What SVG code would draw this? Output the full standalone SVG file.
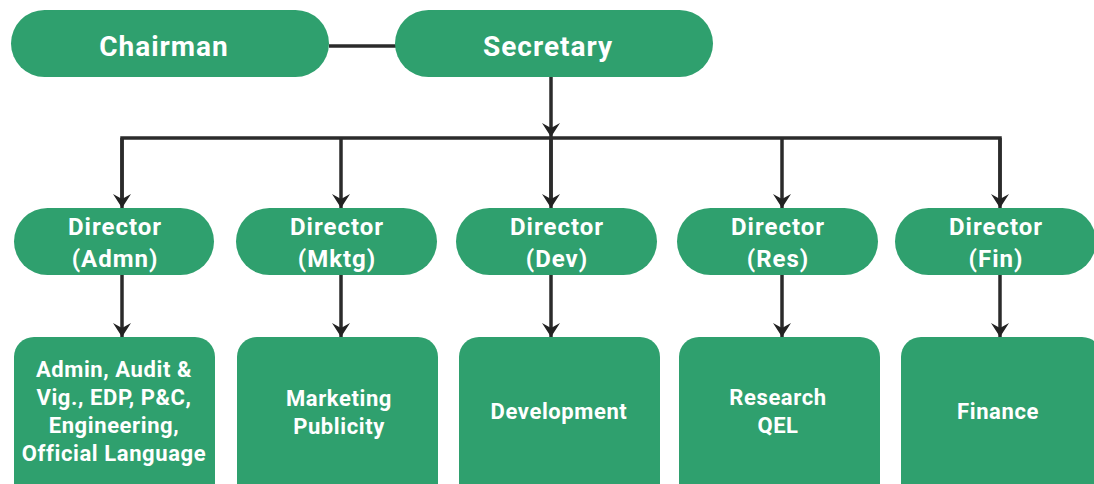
<svg xmlns="http://www.w3.org/2000/svg" width="1094" height="484" viewBox="0 0 1094 484">
<style>
.n{fill:#2fa06e}
.t{fill:#fff;font-family:Roboto,"Liberation Sans",sans-serif;font-weight:700;text-anchor:middle}
.big{font-size:28px;letter-spacing:1px}
.dir{font-size:24px;letter-spacing:1px}
.box{font-size:22px;letter-spacing:0.6px}
.c{stroke:#2b2b2b;stroke-width:3.5;fill:none}
</style>
<defs>
<marker id="ah" markerUnits="userSpaceOnUse" markerWidth="16" markerHeight="20" refX="14" refY="9" orient="auto" viewBox="0 0 16 20">
<path d="M0,0 L14,9 L0,18 L5,9 Z" fill="#222"/>
</marker>
</defs>
<rect width="1094" height="484" fill="#fff"/>
<g id="connectors">
<line class="c" x1="329" y1="46" x2="396" y2="46"/>
<line class="c" x1="551" y1="77" x2="551" y2="137" marker-end="url(#ah)"/>
<path class="c" d="M122,200 V138 H1000 V200"/>
<line class="c" x1="551" y1="138" x2="551" y2="200"/>
<line class="c" x1="122" y1="138" x2="122" y2="208" marker-end="url(#ah)"/>
<line class="c" x1="341" y1="138" x2="341" y2="208" marker-end="url(#ah)"/>
<line class="c" x1="551" y1="138" x2="551" y2="208" marker-end="url(#ah)"/>
<line class="c" x1="782" y1="138" x2="782" y2="208" marker-end="url(#ah)"/>
<line class="c" x1="1000" y1="138" x2="1000" y2="208" marker-end="url(#ah)"/>
<line class="c" x1="122" y1="275" x2="122" y2="337" marker-end="url(#ah)"/>
<line class="c" x1="341" y1="275" x2="341" y2="337" marker-end="url(#ah)"/>
<line class="c" x1="551" y1="275" x2="551" y2="337" marker-end="url(#ah)"/>
<line class="c" x1="782" y1="275" x2="782" y2="337" marker-end="url(#ah)"/>
<line class="c" x1="1000" y1="275" x2="1000" y2="337" marker-end="url(#ah)"/>
</g>
<g id="chairman"><rect class="n" x="11" y="10" width="318" height="67" rx="33.5"/><text class="t big" x="164" y="56">Chairman</text></g>
<g id="secretary"><rect class="n" x="395" y="10" width="318" height="67" rx="33.5"/><text class="t big" x="548" y="56">Secretary</text></g>
<g id="dir-admn"><rect class="n" x="14" y="208" width="200" height="67" rx="33.5"/><text class="t dir" x="115" y="235">Director</text><text class="t dir" x="115" y="267">(Admn)</text></g>
<g id="dir-mktg"><rect class="n" x="236" y="208" width="201" height="67" rx="33.5"/><text class="t dir" x="337" y="235">Director</text><text class="t dir" x="337" y="267">(Mktg)</text></g>
<g id="dir-dev"><rect class="n" x="456" y="208" width="201" height="67" rx="33.5"/><text class="t dir" x="557" y="235">Director</text><text class="t dir" x="557" y="267">(Dev)</text></g>
<g id="dir-res"><rect class="n" x="677" y="208" width="201" height="67" rx="33.5"/><text class="t dir" x="778" y="235">Director</text><text class="t dir" x="778" y="267">(Res)</text></g>
<g id="dir-fin"><rect class="n" x="895" y="208" width="201" height="67" rx="33.5"/><text class="t dir" x="996" y="235">Director</text><text class="t dir" x="996" y="267">(Fin)</text></g>
<g id="box-admn"><rect class="n" x="14" y="337" width="201" height="170" rx="20"/>
<text class="t box" x="114" y="377">Admin, Audit &amp;</text>
<text class="t box" x="114" y="405">Vig., EDP, P&amp;C,</text>
<text class="t box" x="114" y="433">Engineering,</text>
<text class="t box" x="114" y="461">Official Language</text></g>
<g id="box-mktg"><rect class="n" x="237" y="337" width="201" height="170" rx="20"/>
<text class="t box" x="339" y="406">Marketing</text><text class="t box" x="339" y="434">Publicity</text></g>
<g id="box-dev"><rect class="n" x="459" y="337" width="201" height="170" rx="20"/>
<text class="t box" x="559" y="419">Development</text></g>
<g id="box-res"><rect class="n" x="679" y="337" width="201" height="170" rx="20"/>
<text class="t box" x="778" y="405">Research</text><text class="t box" x="778" y="433">QEL</text></g>
<g id="box-fin"><rect class="n" x="901" y="337" width="201" height="170" rx="20"/>
<text class="t box" x="998" y="419">Finance</text></g>
</svg>
